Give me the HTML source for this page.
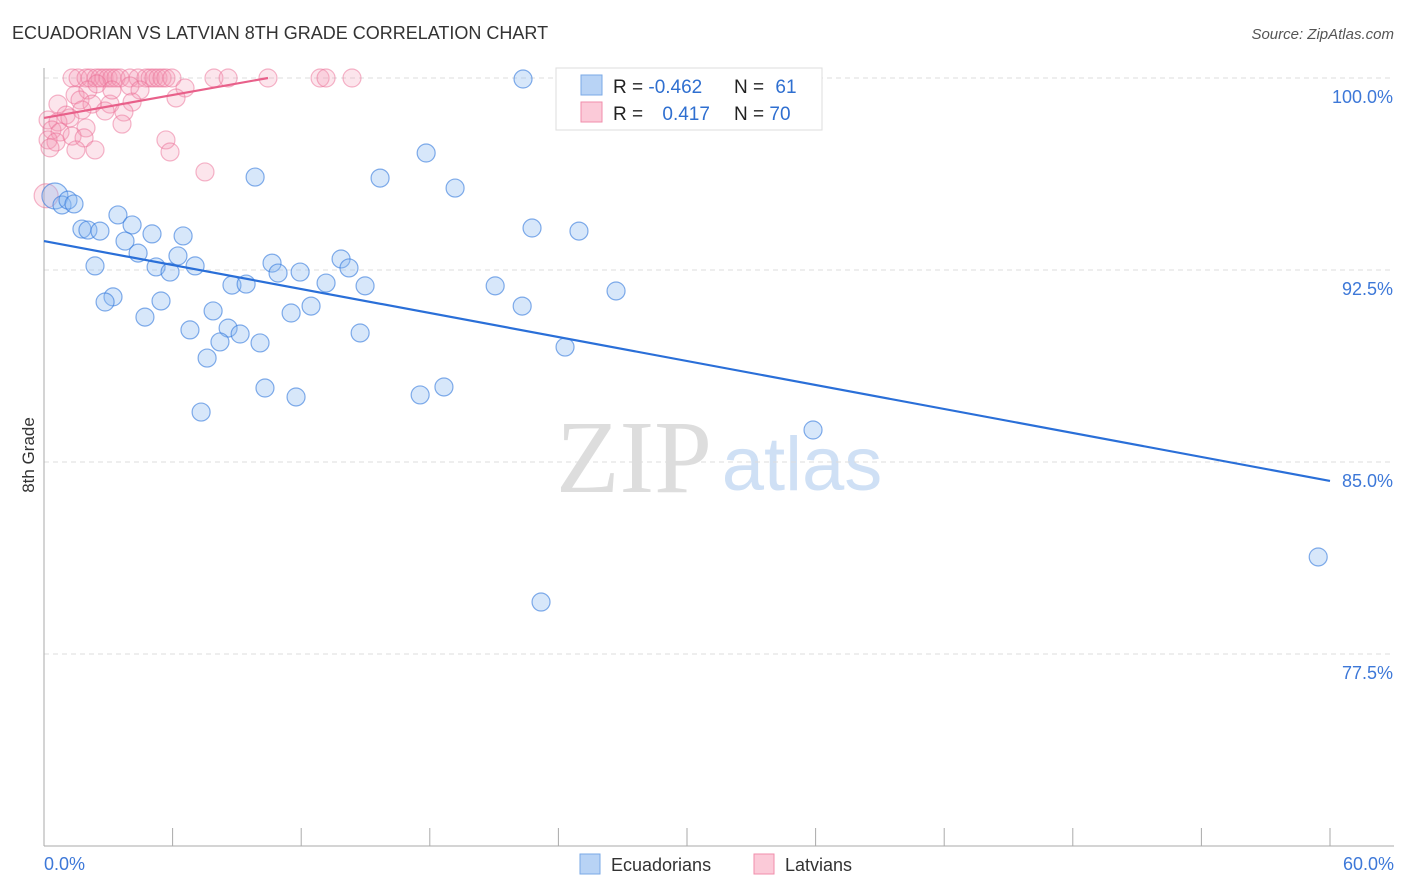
<!DOCTYPE html>
<html><head><meta charset="utf-8"><style>
body{margin:0;background:#fff;font-family:"Liberation Sans",sans-serif;}
svg{display:block}
</style></head><body>
<svg id="c" width="1406" height="892">
<text x="12" y="39" font-size="18" fill="#333">ECUADORIAN VS LATVIAN 8TH GRADE CORRELATION CHART</text>
<text x="1394" y="39" font-size="15" fill="#555" font-style="italic" text-anchor="end">Source: ZipAtlas.com</text>
<text x="34" y="455" font-size="17" fill="#333" transform="rotate(-90 34 455)" text-anchor="middle">8th Grade</text>
<text x="634" y="492" font-size="104" fill="#ddd" font-family="Liberation Serif,serif" text-anchor="middle">ZIP</text>
<text x="802" y="490" font-size="76" fill="#cfe0f5" text-anchor="middle">atlas</text>
<g id="grid"></g><g id="pts"></g><g id="lines"></g>
<g>
<rect x="556" y="68" width="266" height="62" fill="#fff" stroke="#ddd"/>
<rect x="581" y="75" width="21" height="20" fill="#b8d3f5" stroke="#7aa8e6"/>
<rect x="581" y="102" width="21" height="20" fill="#fbcad8" stroke="#f08eab"/>
<text x="613" y="93" font-size="19" fill="#222">R = <tspan fill="#2f6fd0">-0.462</tspan></text>
<text x="734" y="93" font-size="19" fill="#222">N = <tspan fill="#2f6fd0" dx="6">61</tspan></text>
<text x="613" y="120" font-size="19" fill="#222">R = <tspan fill="#2f6fd0" dx="14">0.417</tspan></text>
<text x="734" y="120" font-size="19" fill="#222">N = <tspan fill="#2f6fd0">70</tspan></text>
</g>
<g>
<rect x="580" y="854" width="20" height="20" fill="#b8d3f5" stroke="#7aa8e6"/>
<text x="611" y="871" font-size="18" fill="#333">Ecuadorians</text>
<rect x="754" y="854" width="20" height="20" fill="#fbcad8" stroke="#f08eab"/>
<text x="785" y="871" font-size="18" fill="#333">Latvians</text>
</g>
</svg>
<script>
const yTicks=[100,92.5,85,77.5];
const yTickLabels=["100.0%","92.5%","85.0%","77.5%"];
const xTickLabels=["0.0%","60.0%"];
const blueX=[22.35,17.83,9.85,15.68,19.18,0.51,0.84,1.12,1.40,3.45,4.11,1.77,2.05,2.61,5.04,6.49,22.77,24.96,3.78,4.39,6.25,2.38,5.23,5.88,7.05,10.64,10.92,11.95,13.86,14.23,13.16,14.98,8.77,9.43,21.05,26.69,3.22,2.85,5.46,12.46,11.53,22.31,7.89,4.71,6.81,8.59,9.15,14.75,8.21,10.08,24.31,7.61,10.31,11.76,17.55,18.66,7.33,35.88,59.45,23.19];
const blueY=[99.96,97.07,96.13,96.09,95.70,95.39,95.04,95.23,95.08,94.65,94.26,94.10,94.06,94.02,93.91,93.83,94.14,94.02,93.63,93.16,93.05,92.66,92.62,92.42,92.66,92.77,92.38,92.42,92.93,92.58,91.99,91.88,91.91,91.95,91.88,91.68,91.45,91.25,91.29,91.09,90.82,91.09,90.90,90.66,90.16,90.23,90.00,90.04,89.69,89.65,89.49,89.06,87.89,87.54,87.62,87.93,86.95,86.25,81.29,79.53];
const pinkX=[1.31,1.59,1.96,2.15,2.43,2.61,2.80,2.99,3.17,3.36,3.55,4.01,4.39,4.76,4.95,5.13,5.32,5.51,5.69,5.97,7.93,8.59,10.45,12.88,13.16,14.37,1.45,2.05,2.47,4.01,6.58,4.48,0.65,1.68,2.24,3.08,4.11,6.16,1.03,1.77,2.85,3.73,0.19,0.65,1.21,0.37,0.75,1.96,3.64,0.19,0.56,1.31,1.87,0.28,1.49,2.38,5.69,5.88,7.51,3.17,0.1];
const pinkY=[100,100,100,100,100,100,100,100,100,100,100,100,100,100,100,100,100,100,100,100,100,100,100,100,100,100,99.34,99.53,99.77,99.69,99.61,99.53,98.98,99.14,98.98,98.98,99.06,99.22,98.55,98.75,98.71,98.67,98.36,98.28,98.44,97.97,97.89,98.05,98.20,97.58,97.50,97.73,97.66,97.27,97.19,97.19,97.58,97.11,96.33,99.53,95.4];
const blueTrend=[[0,93.63],[60,84.26]];
const pinkTrend=[[0,98.44],[10.45,100]];
const NS="http://www.w3.org/2000/svg";
const X=v=>44+v/60*1286, Y=v=>78+(100-v)*25.6;
function mk(t,a,p){const e=document.createElementNS(NS,t);for(const k in a)e.setAttribute(k,a[k]);p.appendChild(e);return e;}
const g=document.getElementById('grid');
yTicks.forEach((t,i)=>{
 const l=mk('line',{x1:44,x2:1394,y1:Y(t),y2:Y(t),stroke:'#ddd','stroke-dasharray':'5,4'},g);
 
 
 const tx=mk('text',{x:1393,y:Y(t)+25,'font-size':18,fill:'#3d78d8','text-anchor':'end'},g);
 tx.textContent=yTickLabels[i];
 
 
});
mk('line',{x1:44,x2:44,y1:68,y2:846,stroke:'#aaa'},g);
mk('line',{x1:44,x2:1394,y1:846,y2:846,stroke:'#aaa'},g);
for(let i=0;i<=10;i++){mk('line',{x1:X(i*6),x2:X(i*6),y1:828,y2:846,stroke:'#aaa'},g);}
xTickLabels.forEach((s,i)=>{
 const tx=mk('text',{x:i?1394:44,y:870,'font-size':18,fill:'#3d78d8','text-anchor':i?'end':'start'},g);
 tx.textContent=s;
 
 
});
const p=document.getElementById('pts');
pinkX.forEach((x,i)=>{
 const c=mk('circle',{cx:X(x),cy:Y(pinkY[i]),r:i==pinkX.length-1?12:9,fill:'rgba(245,150,180,0.25)',stroke:'rgba(235,110,150,0.5)','stroke-width':1.2},p);
 
 
});
blueX.forEach((x,i)=>{
 const c=mk('circle',{cx:X(x),cy:Y(blueY[i]),r:i==5?13:9,fill:'rgba(140,185,240,0.35)',stroke:'rgba(50,120,220,0.6)','stroke-width':1.2},p);
 
 
});
const L=document.getElementById('lines');
const b=mk('line',{x1:X(blueTrend[0][0]),y1:Y(blueTrend[0][1]),x2:X(blueTrend[1][0]),y2:Y(blueTrend[1][1]),stroke:'#2a6fd8','stroke-width':2.2},L);


const q=mk('line',{x1:X(pinkTrend[0][0]),y1:Y(pinkTrend[0][1]),x2:X(pinkTrend[1][0]),y2:Y(pinkTrend[1][1]),stroke:'#e8608a','stroke-width':2.2},L);


</script>
</body></html>
